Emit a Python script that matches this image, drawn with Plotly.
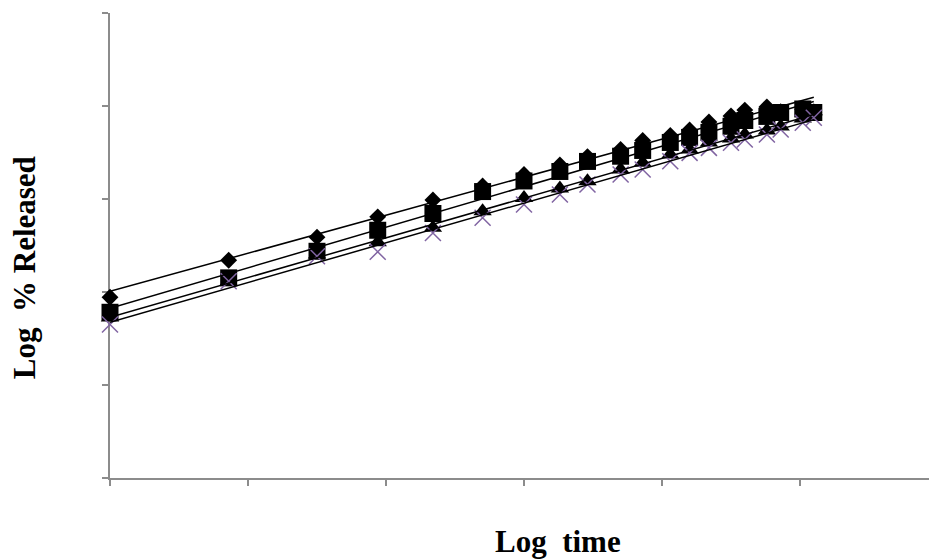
import numpy as np
import plotly.graph_objects as go

# Log time values (shared by all four formulations)
log_time = [0.00, 0.43, 0.75, 0.97, 1.17, 1.35, 1.50, 1.63, 1.73, 1.85,
            1.93, 2.03, 2.10, 2.17, 2.25, 2.30, 2.38, 2.43, 2.51, 2.55]

# Log % released for each formulation
f1_diamond = [0.972, 1.171, 1.295, 1.404, 1.495, 1.570, 1.632, 1.683, 1.728, 1.766,
              1.815, 1.841, 1.871, 1.914, 1.946, 1.978, 1.995, 1.970, 1.981, 1.965]
f2_square = [0.891, 1.076, 1.219, 1.332, 1.422, 1.540, 1.597, 1.648, 1.702, 1.730,
             1.761, 1.804, 1.831, 1.858, 1.891, 1.922, 1.944, 1.965, 1.984, 1.965]
f3_triangle = [0.863, 1.056, 1.202, 1.268, 1.345, 1.434, 1.505, 1.556, 1.596, 1.659,
               1.695, 1.739, 1.766, 1.804, 1.825, 1.847, 1.868, 1.890, 1.933, 1.972]
f4_cross = [0.825, 1.058, 1.192, 1.216, 1.317, 1.399, 1.470, 1.524, 1.578, 1.632,
            1.659, 1.703, 1.748, 1.775, 1.802, 1.820, 1.847, 1.874, 1.910, 1.937]

x_ticks = [0, 0.5, 1.0, 1.5, 2.0, 2.5]
y_ticks = [0, 0.5, 1.0, 1.5, 2.0, 2.5]

series = [
    (f1_diamond, dict(symbol="diamond", size=13, color="black")),
    (f2_square, dict(symbol="square", size=17, color="black")),
    (f3_triangle, dict(symbol="triangle-up", size=16, color="black")),
    (f4_cross, dict(symbol="x-thin", size=16, color="#8064A2",
                    line=dict(color="#8064A2", width=1.5))),
]

fig = go.Figure()

for values, marker in series:
    fig.add_trace(go.Scatter(x=log_time, y=values, mode="markers",
                             marker=marker, cliponaxis=False, showlegend=False))

# Linear trendlines over each series' range
for values, _ in series:
    slope, intercept = np.polyfit(log_time, values, 1)
    xs = np.array([min(log_time), max(log_time)])
    fig.add_trace(go.Scatter(x=xs, y=slope * xs + intercept, mode="lines",
                             line=dict(color="black", width=1.5),
                             cliponaxis=False, showlegend=False, hoverinfo="skip"))

axis_style = dict(showgrid=False, zeroline=False, showticklabels=False,
                  showline=True, linecolor="#8c8c8c", linewidth=1.5,
                  ticks="outside", ticklen=6, tickwidth=1.5, tickcolor="#8c8c8c",
                  layer="below traces")

fig.update_xaxes(range=[0, 819 / 276], tickvals=x_ticks, **axis_style)
fig.update_yaxes(range=[0, 2.5], tickvals=y_ticks, **axis_style)

title_font = dict(family="Liberation Serif, Times New Roman, serif", size=31,
                  color="black")

fig.add_annotation(text="<b>Log  time</b>", xref="paper", yref="paper",
                   x=0.547, y=-0.137, xanchor="center", yanchor="middle",
                   showarrow=False, font=title_font)
fig.add_annotation(text="<b>Log  % Released</b>", xref="paper", yref="paper",
                   x=-0.104, y=0.453, xanchor="center", yanchor="middle",
                   textangle=-90, showarrow=False, font=title_font)

fig.update_layout(width=929, height=559, plot_bgcolor="white",
                  paper_bgcolor="white",
                  margin=dict(l=110, r=0, t=13, b=81))

fig.write_html("out.html")
